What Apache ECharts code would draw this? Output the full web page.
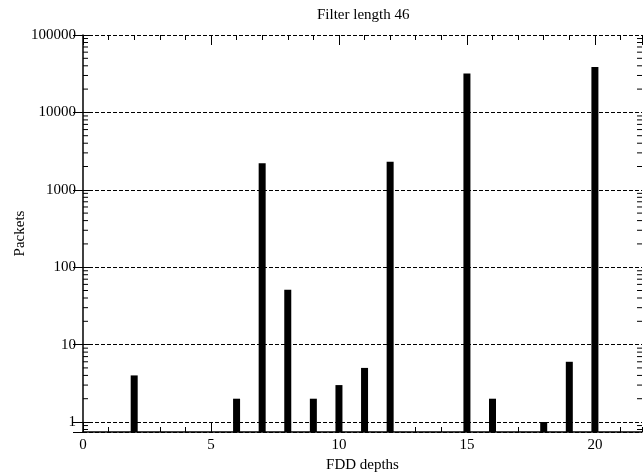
<!DOCTYPE html>
<html>
<head>
<meta charset="utf-8">
<script src="https://cdn.jsdelivr.net/npm/echarts@6/dist/echarts.min.js"></script>
<style>html,body{margin:0;padding:0;background:#fff}#c{width:643px;height:476px}</style>
</head>
<body>
<div id="c"></div>
<script>
var depths = [2, 6, 7, 8, 9, 10, 11, 12, 15, 16, 18, 19, 20];
var packets = [4, 2, 2200, 51, 2, 3, 5, 2300, 31700, 2, 1, 6, 38600];
var yMin = 0.743, yMax = 100000;
var xMin = 0, xMax = 21.84;
var titleText = 'Filter length 46';
var xName = 'FDD depths';
var yName = 'Packets';

// log minor tick positions (2..9 per decade) inside the axis range
var minorTicks = [];
for (var e = -1; e < 5; e++) {
  for (var m = 2; m <= 9; m++) {
    var v = m * Math.pow(10, e);
    if (v >= yMin && v <= yMax) minorTicks.push([0, v]);
  }
}

var FONT = 'Liberation Serif';
var chart = echarts.init(document.getElementById('c'), null, {renderer: 'canvas'});

chart.setOption({
  animation: false,
  backgroundColor: '#fff',
  title: {
    text: titleText, left: 312, top: 3,
    textStyle: {fontFamily: FONT, fontSize: 15, fontWeight: 'normal', color: '#000'}
  },
  grid: {left: 83, top: 35, right: 1, bottom: 44, containLabel: false, outerBoundsMode: 'none'},
  xAxis: [
    {
      type: 'value', min: xMin, max: xMax, interval: 5, position: 'bottom',
      name: xName, nameLocation: 'middle', nameGap: 20,
      nameTextStyle: {fontFamily: FONT, fontSize: 15, color: '#000'},
      axisLine: {show: true, lineStyle: {color: '#000', width: 1.5}},
      axisTick: {show: true, inside: true, length: 10, lineStyle: {color: '#000'}},
      axisLabel: {fontFamily: FONT, fontSize: 15, color: '#000', margin: 6, showMaxLabel: false},
      splitLine: {show: false}
    },
    {
      type: 'value', min: xMin, max: xMax, interval: 1, position: 'bottom',
      axisLine: {show: false}, axisLabel: {show: false}, splitLine: {show: false},
      axisTick: {show: true, inside: true, length: 5, lineStyle: {color: '#000'}}
    },
    {
      type: 'value', min: xMin, max: xMax, interval: 5, position: 'top',
      axisLine: {show: false}, axisLabel: {show: false}, splitLine: {show: false},
      axisTick: {show: true, inside: true, length: 10, lineStyle: {color: '#000'}}
    },
    {
      type: 'value', min: xMin, max: xMax, interval: 1, position: 'top',
      axisLine: {show: false}, axisLabel: {show: false}, splitLine: {show: false},
      axisTick: {show: true, inside: true, length: 5, lineStyle: {color: '#000'}}
    }
  ],
  yAxis: [
    {
      type: 'log', logBase: 10, min: yMin, max: yMax, position: 'left',
      name: yName, nameLocation: 'middle', nameGap: 55, nameMoveOverlap: false,
      nameTextStyle: {fontFamily: FONT, fontSize: 15, color: '#000'},
      axisLine: {show: true, lineStyle: {color: '#000', width: 1.5}},
      axisTick: {show: true, inside: true, length: 10, lineStyle: {color: '#000'}},
      axisLabel: {
        fontFamily: FONT, fontSize: 15, color: '#000', margin: 7, showMinLabel: false,
        formatter: function (v) { return v >= 1 ? String(Math.round(v)) : ''; }
      },
      splitLine: {show: true, lineStyle: {color: '#000', width: 1, type: [4, 2]}}
    },
    {
      type: 'log', logBase: 10, min: yMin, max: yMax, position: 'right',
      axisLine: {show: false}, axisLabel: {show: false}, splitLine: {show: false},
      axisTick: {show: true, inside: true, length: 10, lineStyle: {color: '#000'}}
    }
  ],
  series: [
    {
      type: 'custom', xAxisIndex: 0, yAxisIndex: 0, silent: true,
      data: depths.map(function (d, i) { return [d, packets[i]]; }),
      renderItem: function (params, api) {
        var top = api.coord([api.value(0), api.value(1)]);
        var cs = params.coordSys;
        var bottom = cs.y + cs.height;
        var w = 7;
        return {
          type: 'rect',
          shape: {x: top[0] - w / 2, y: top[1], width: w, height: bottom - top[1]},
          style: {fill: '#000'}
        };
      },
      z: 3
    },
    {
      type: 'custom', xAxisIndex: 0, yAxisIndex: 0, silent: true, clip: false,
      data: minorTicks,
      renderItem: function (params, api) {
        var p = api.coord([0, api.value(1)]);
        var cs = params.coordSys;
        var L = 5;
        return {
          type: 'group',
          children: [
            {type: 'line', shape: {x1: cs.x, y1: p[1], x2: cs.x + L, y2: p[1]}, style: {stroke: '#000', lineWidth: 1}},
            {type: 'line', shape: {x1: cs.x + cs.width, y1: p[1], x2: cs.x + cs.width - L, y2: p[1]}, style: {stroke: '#000', lineWidth: 1}}
          ]
        };
      },
      z: 4
    }
  ]
});
</script>
</body>
</html>
